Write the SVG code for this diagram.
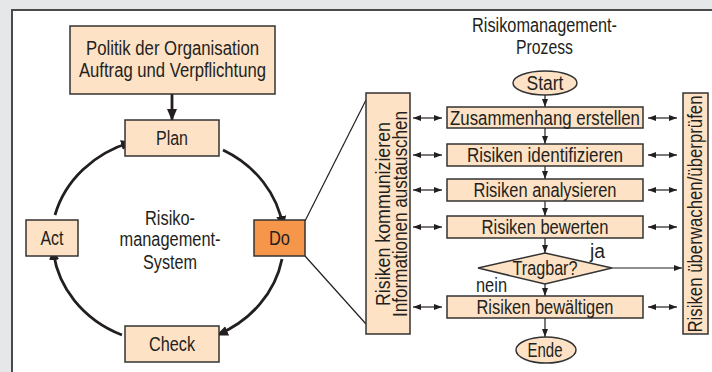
<svg xmlns="http://www.w3.org/2000/svg" width="712" height="372" viewBox="0 0 712 372">
<defs>
<style>
.box{fill:#fde2c6;stroke:#333;stroke-width:1.5}
.do{fill:#f5964a;stroke:#333;stroke-width:1.5}
text{font-family:"Liberation Sans",Arial,sans-serif;font-size:20px;fill:#231f20}
.c{text-anchor:middle}
.big{stroke:#231f20;stroke-width:2.8;fill:none}
.thin{stroke:#231f20;stroke-width:1.2;fill:none}
</style>
<marker id="bigArrow" viewBox="0 0 12 10" refX="11" refY="5" markerWidth="12" markerHeight="10" markerUnits="userSpaceOnUse" orient="auto">
<path d="M0,0 L12,5 L0,10 Z" fill="#231f20"/>
</marker>
<marker id="sArrow" viewBox="0 0 8 6" refX="8" refY="3" markerWidth="8" markerHeight="6" markerUnits="userSpaceOnUse" orient="auto">
<path d="M0,0 L8,3 L0,6 Z" fill="#231f20"/>
</marker>
<marker id="sArrowStart" viewBox="0 0 8 6" refX="0" refY="3" markerWidth="8" markerHeight="6" markerUnits="userSpaceOnUse" orient="auto">
<path d="M8,0 L0,3 L8,6 Z" fill="#231f20"/>
</marker>
</defs>
<rect x="0" y="0" width="712" height="372" fill="#e6e7e8"/>
<rect x="12" y="10" width="720" height="380" fill="#ffffff" stroke="#4a4a4a" stroke-width="2"/>

<g id="connectors">
<line class="big" x1="172" y1="94" x2="172" y2="120" marker-end="url(#bigArrow)"/>
<path class="big" d="M223,150 A115,104 0 0 1 283,227" marker-end="url(#bigArrow)"/>
<path class="big" d="M282,259 A115,104 0 0 1 217,335" marker-end="url(#bigArrow)"/>
<path class="big" d="M122,335 A115,104 0 0 1 53,249" marker-end="url(#bigArrow)"/>
<path class="big" d="M55,215 A115,104 0 0 1 132,142" marker-end="url(#bigArrow)"/>
<line class="thin" x1="305" y1="221" x2="366" y2="100"/>
<line class="thin" x1="305" y1="256" x2="366" y2="324"/>
<line class="thin" x1="545" y1="95" x2="545" y2="107" marker-end="url(#sArrow)"/>
<line class="thin" x1="545" y1="128" x2="545" y2="144" marker-end="url(#sArrow)"/>
<line class="thin" x1="545" y1="166" x2="545" y2="179" marker-end="url(#sArrow)"/>
<line class="thin" x1="545" y1="201" x2="545" y2="216" marker-end="url(#sArrow)"/>
<line class="thin" x1="545" y1="238" x2="545" y2="253" marker-end="url(#sArrow)"/>
<line class="thin" x1="545" y1="284" x2="545" y2="296" marker-end="url(#sArrow)"/>
<line class="thin" x1="545" y1="318" x2="545" y2="337" marker-end="url(#sArrow)"/>
<line class="thin" x1="612" y1="268" x2="682" y2="268" marker-end="url(#sArrow)"/>
<g id="dbl-left">
<line class="thin" x1="413" y1="118" x2="442" y2="118" marker-start="url(#sArrowStart)" marker-end="url(#sArrow)"/>
<line class="thin" x1="413" y1="155" x2="442" y2="155" marker-start="url(#sArrowStart)" marker-end="url(#sArrow)"/>
<line class="thin" x1="413" y1="190" x2="442" y2="190" marker-start="url(#sArrowStart)" marker-end="url(#sArrow)"/>
<line class="thin" x1="413" y1="227" x2="442" y2="227" marker-start="url(#sArrowStart)" marker-end="url(#sArrow)"/>
<line class="thin" x1="413" y1="307" x2="442" y2="307" marker-start="url(#sArrowStart)" marker-end="url(#sArrow)"/>
</g>
<g id="dbl-right">
<line class="thin" x1="648" y1="118" x2="677" y2="118" marker-start="url(#sArrowStart)" marker-end="url(#sArrow)"/>
<line class="thin" x1="648" y1="155" x2="677" y2="155" marker-start="url(#sArrowStart)" marker-end="url(#sArrow)"/>
<line class="thin" x1="648" y1="190" x2="677" y2="190" marker-start="url(#sArrowStart)" marker-end="url(#sArrow)"/>
<line class="thin" x1="648" y1="227" x2="677" y2="227" marker-start="url(#sArrowStart)" marker-end="url(#sArrow)"/>
<line class="thin" x1="648" y1="307" x2="677" y2="307" marker-start="url(#sArrowStart)" marker-end="url(#sArrow)"/>
</g>
</g>

<g id="politik">
<rect class="box" x="70" y="26" width="205" height="68"/>
<text class="c" x="172.5" y="55" textLength="173" lengthAdjust="spacingAndGlyphs">Politik der Organisation</text>
<text class="c" x="172.5" y="77" textLength="187" lengthAdjust="spacingAndGlyphs">Auftrag und Verpflichtung</text>
</g>
<g id="plan">
<rect class="box" x="125" y="120" width="94" height="36"/>
<text class="c" x="172" y="145" textLength="32" lengthAdjust="spacingAndGlyphs">Plan</text>
</g>
<g id="do">
<rect class="do" x="254" y="220" width="51" height="36"/>
<text class="c" x="279.5" y="245" textLength="21" lengthAdjust="spacingAndGlyphs">Do</text>
</g>
<g id="check">
<rect class="box" x="125" y="326" width="94" height="36"/>
<text class="c" x="172" y="351" textLength="46" lengthAdjust="spacingAndGlyphs">Check</text>
</g>
<g id="act">
<rect class="box" x="26" y="220" width="52" height="36"/>
<text class="c" x="52" y="245" textLength="23" lengthAdjust="spacingAndGlyphs">Act</text>
</g>
<g id="system-label">
<text class="c" x="170" y="225" textLength="50" lengthAdjust="spacingAndGlyphs">Risiko-</text>
<text class="c" x="170" y="246" textLength="101" lengthAdjust="spacingAndGlyphs">management-</text>
<text class="c" x="170" y="269" textLength="54" lengthAdjust="spacingAndGlyphs">System</text>
</g>

<g id="prozess-title">
<text class="c" x="544.5" y="32" textLength="145" lengthAdjust="spacingAndGlyphs">Risikomanagement-</text>
<text class="c" x="544.5" y="54" textLength="57" lengthAdjust="spacingAndGlyphs">Prozess</text>
</g>
<g id="start">
<ellipse class="box" cx="545" cy="83" rx="32" ry="12"/>
<text class="c" x="545" y="90" textLength="37" lengthAdjust="spacingAndGlyphs">Start</text>
</g>
<g id="zusammenhang">
<rect class="box" x="447" y="107" width="196" height="21"/>
<text class="c" x="545" y="124.5" textLength="190" lengthAdjust="spacingAndGlyphs">Zusammenhang erstellen</text>
</g>
<g id="identifizieren">
<rect class="box" x="447" y="144" width="196" height="22"/>
<text class="c" x="545" y="162" textLength="156" lengthAdjust="spacingAndGlyphs">Risiken identifizieren</text>
</g>
<g id="analysieren">
<rect class="box" x="447" y="179" width="196" height="22"/>
<text class="c" x="545" y="197" textLength="143" lengthAdjust="spacingAndGlyphs">Risiken analysieren</text>
</g>
<g id="bewerten">
<rect class="box" x="447" y="216" width="196" height="22"/>
<text class="c" x="545" y="234" textLength="127" lengthAdjust="spacingAndGlyphs">Risiken bewerten</text>
</g>
<g id="tragbar">
<polygon class="box" points="545,253 612,268 545,284 478,268"/>
<text class="c" x="545" y="275" textLength="65" lengthAdjust="spacingAndGlyphs">Tragbar?</text>
</g>
<g id="labels-ja-nein">
<text x="590" y="258" textLength="15" lengthAdjust="spacingAndGlyphs">ja</text>
<text x="476" y="292" textLength="31" lengthAdjust="spacingAndGlyphs">nein</text>
</g>
<g id="bewaeltigen">
<rect class="box" x="447" y="296" width="196" height="22"/>
<text class="c" x="545" y="314" textLength="137" lengthAdjust="spacingAndGlyphs">Risiken bewältigen</text>
</g>
<g id="ende">
<ellipse class="box" cx="546" cy="350" rx="30" ry="13"/>
<text class="c" x="545" y="357" textLength="35" lengthAdjust="spacingAndGlyphs">Ende</text>
</g>
<g id="kommunizieren">
<rect class="box" x="366" y="93" width="44" height="241"/>
<text class="c" transform="translate(390,214) rotate(-90)" x="0" y="0" textLength="184" lengthAdjust="spacingAndGlyphs">Risiken kommunizieren</text>
<text class="c" transform="translate(407,214) rotate(-90)" x="0" y="0" textLength="206" lengthAdjust="spacingAndGlyphs">Informationen austauschen</text>
</g>
<g id="ueberwachen">
<rect class="box" x="683" y="93" width="25" height="241"/>
<text class="c" transform="translate(702,214) rotate(-90)" x="0" y="0" textLength="237" lengthAdjust="spacingAndGlyphs">Risiken überwachen/überprüfen</text>
</g>
</svg>
